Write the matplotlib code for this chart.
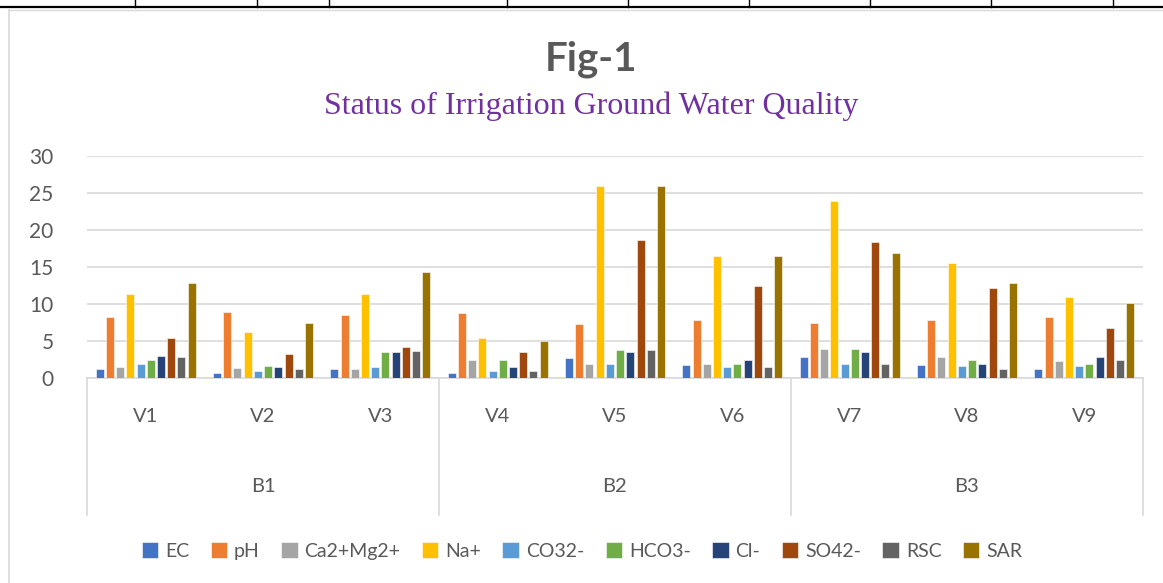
import numpy as np
import matplotlib.pyplot as plt
from matplotlib.lines import Line2D
import matplotlib.transforms as mtransforms

# datos
villages = ["V1", "V2", "V3", "V4", "V5", "V6", "V7", "V8", "V9"]
blocks = ["B1", "B2", "B3"]
params = ["EC", "pH", "Ca2+Mg2+", "Na+", "CO32-", "HCO3-", "Cl-", "SO42-", "RSC", "SAR"]

EC = [1.2, 0.7, 1.2, 0.7, 2.7, 1.8, 2.8, 1.8, 1.2]
pH = [8.3, 8.9, 8.45, 8.8, 7.25, 7.9, 7.45, 7.9, 8.3]
CaMg = [1.55, 1.3, 1.2, 2.45, 1.95, 1.95, 3.95, 2.85, 2.35]
Na = [11.3, 6.15, 11.4, 5.4, 25.95, 16.45, 23.9, 15.5, 11.0]
CO3 = [1.95, 1.0, 1.45, 0.95, 1.95, 1.45, 1.95, 1.65, 1.65]
HCO3 = [2.45, 1.65, 3.45, 2.45, 3.75, 1.95, 3.95, 2.45, 1.95]
Cl = [2.95, 1.45, 3.45, 1.45, 3.45, 2.45, 3.45, 1.95, 2.85]
SO4 = [5.4, 3.3, 4.2, 3.45, 18.6, 12.4, 18.4, 12.2, 6.7]
RSC = [2.85, 1.2, 3.65, 0.95, 3.75, 1.45, 1.95, 1.2, 2.45]
SAR = [12.8, 7.4, 14.3, 4.95, 25.95, 16.45, 16.9, 12.9, 10.1]

series = [EC, pH, CaMg, Na, CO3, HCO3, Cl, SO4, RSC, SAR]
colores = ["#4472C4", "#ED7D31", "#A5A5A5", "#FFC000", "#5B9BD5",
           "#70AD47", "#264478", "#9E480E", "#636363", "#997300"]

gris = "#595959"
fuente = ["Lato", "DejaVu Sans"]
plt.rcParams['font.family'] = fuente

W, H = 1163, 583
fig = plt.figure(figsize=(W / 100, H / 100), dpi=100)

# marco superior (tabla) y borde del grafico
fig.add_artist(Line2D([0, 1], [1 - 6.5 / H, 1 - 6.5 / H], color="black", lw=1.6,
                      transform=fig.transFigure))
for xt in [135, 257, 329, 507, 628, 749, 870, 991, 1113]:
    fig.add_artist(Line2D([xt / W, xt / W], [1 - 6.5 / H, 1], color="black", lw=1.0,
                          transform=fig.transFigure))
fig.add_artist(Line2D([9 / W, 9 / W], [0, 1 - 10 / H], color="#D9D9D9", lw=1.2,
                      transform=fig.transFigure))
fig.add_artist(Line2D([9 / W, 1], [1 - 10 / H, 1 - 10 / H], color="#D9D9D9", lw=1.0,
                      transform=fig.transFigure))

# ejes
x0, x1, y0, y1 = 87, 1143, 378, 156
ax = fig.add_axes([x0 / W, 1 - y0 / H, (x1 - x0) / W, (y0 - y1) / H])

x = np.arange(len(villages))
paso = 0.087
ancho = 0.068
for i, (vals, c) in enumerate(zip(series, colores)):
    ax.bar(x + (i - 4.5) * paso, vals, ancho, color=c, edgecolor="white",
           linewidth=0.4, label=params[i], zorder=3)

ax.set_xlim(-0.5, len(villages) - 0.5)
ax.set_ylim(0, 30)
ax.set_yticks(np.arange(0, 31, 5))
ax.tick_params(axis="y", length=0, pad=24, labelsize=15, labelcolor=gris)
ax.set_xticks([])
ax.grid(axis="y", color="#D9D9D9", linewidth=1.2, zorder=0)
for s in ["top", "right", "left"]:
    ax.spines[s].set_visible(False)
ax.spines["bottom"].set_color("#D9D9D9")
ax.spines["bottom"].set_linewidth(1.2)

# etiquetas de categorias (dos niveles)
trans = mtransforms.blended_transform_factory(ax.transData, ax.transAxes)
hpx = y0 - y1
for xi, v in zip(x, villages):
    ax.text(xi, -(417 - y0) / hpx, v, transform=trans, ha="center", va="center",
            fontsize=14.5, color=gris)
for j, b in enumerate(blocks):
    ax.text(3 * j + 1, -(487 - y0) / hpx, b, transform=trans, ha="center", va="center",
            fontsize=14.5, color=gris)
for xb in [-0.5, 2.5, 5.5, 8.5]:
    ax.plot([xb, xb], [0, -(515 - y0) / hpx], transform=trans, color="#D9D9D9",
            lw=1.2, clip_on=False)

# titulos
fig.text(591 / W, 1 - 59 / H, "Fig-1", ha="center", va="center", fontsize=29,
         fontweight="bold", color=gris)
fig.text(591 / W, 1 - 106 / H, "Status of Irrigation Ground Water Quality",
         ha="center", va="center", fontsize=23, color="#7030A0",
         family=["Liberation Serif", "DejaVu Serif"])

# leyenda
fig.legend(loc="center", bbox_to_anchor=(582 / W, 1 - 551 / H), ncol=10,
           frameon=False, fontsize=14, labelcolor=gris, handlelength=0.85,
           handleheight=0.85, handletextpad=0.35, columnspacing=1.1)

plt.savefig("out.png", dpi=100)
